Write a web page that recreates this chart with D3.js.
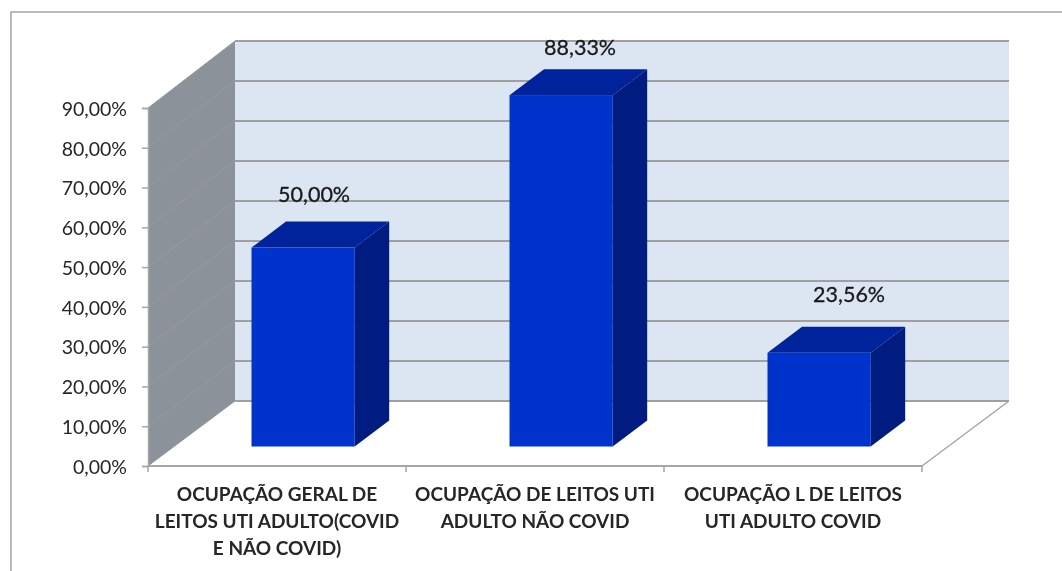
<!DOCTYPE html>
<html>
<head>
<meta charset="utf-8">
<script src="https://cdn.jsdelivr.net/npm/d3@7"></script>
<style>
    html, body { margin: 0; padding: 0; background: #fff; overflow: hidden; }
    svg { display: block; font-family: Lato, sans-serif; }
</style>
</head>
<body>
<script>
// chart data
var categories = [
    ["OCUPAÇÃO GERAL DE", "LEITOS UTI ADULTO(COVID", "E NÃO COVID)"],
    ["OCUPAÇÃO DE LEITOS UTI", "ADULTO NÃO COVID"],
    ["OCUPAÇÃO L DE LEITOS", "UTI ADULTO COVID"]
];
var values = [50.00, 88.33, 23.56];
var valueLabels = ["50,00%", "88,33%", "23,56%"];
var yTicks = [0, 10, 20, 30, 40, 50, 60, 70, 80, 90];
var yTickLabels = ["0,00%", "10,00%", "20,00%", "30,00%", "40,00%", "50,00%", "60,00%", "70,00%", "80,00%", "90,00%"];

let width = 1062;
let height = 571;

// front plane of the 3d box, the back wall is moved by depthX and has its own y scale
let left = 148, right = 922, bottom = 466, top_ = 108;
let depthX = 87, depthY = -65;

var svg = d3.select("body")
    .append("svg")
    .attr("width", width)
    .attr("height", height);

// the picture is a soft upscaled screenshot
var defs = svg.append("defs");
defs.append("filter")
    .attr("id", "soft")
    .append("feGaussianBlur")
    .attr("stdDeviation", 0.55);

var chart = svg.append("g")
    .attr("filter", "url(#soft)");

var yScale = d3.scaleLinear()
    .domain([0, 90])
    .range([bottom, top_]);

var yBack = d3.scaleLinear()
    .domain([0, 90])
    .range([401, 41]);

var xScale = d3.scaleBand()
    .domain(d3.range(categories.length))
    .range([left, right]);

// slide a point into the box, t = 0 is the front plane, t = 1 the back wall
function px(x, t) { return x + depthX * t; }
function py(y, t) { return y + depthY * t; }

function poly(points) {
    return d3.line()(points) + "Z";
}

// outer border of the chart, only top and left are in the picture
chart.append("path")
    .attr("d", "M11,575V12H1070")
    .attr("fill", "none")
    .attr("stroke", "#a3a3a3")
    .attr("stroke-width", 1.5);

// back wall
chart.append("rect")
    .attr("x", px(left, 1))
    .attr("y", yBack(90))
    .attr("width", right - left)
    .attr("height", yBack(0) - yBack(90))
    .attr("fill", "#dce6f2");

// left wall
chart.append("path")
    .attr("d", poly([[left, yScale(0)], [left, yScale(90)], [px(left, 1), yBack(90)], [px(left, 1), yBack(0)]]))
    .attr("fill", "#8b9299");

// gridlines on both walls
chart.selectAll("line.back")
    .data(yTicks)
    .enter()
    .append("line")
    .attr("class", "back")
    .attr("x1", px(left, 1))
    .attr("x2", px(right, 1))
    .attr("y1", function(d) { return yBack(d); })
    .attr("y2", function(d) { return yBack(d); })
    .attr("stroke", "#a0a0a0")
    .attr("stroke-width", 2);

chart.selectAll("line.side")
    .data(yTicks)
    .enter()
    .append("line")
    .attr("class", "side")
    .attr("x1", left)
    .attr("x2", px(left, 1))
    .attr("y1", function(d) { return yScale(d); })
    .attr("y2", function(d) { return yBack(d); })
    .attr("stroke", "#9a9a9a")
    .attr("stroke-width", 1);

// right edge of the floor
chart.append("line")
    .attr("x1", right)
    .attr("y1", bottom)
    .attr("x2", px(right, 1))
    .attr("y2", yBack(0))
    .attr("stroke", "#a6a6a6")
    .attr("stroke-width", 1.5);

// y axis
var yAxis = d3.axisLeft(yScale)
    .tickValues(yTicks)
    .tickSize(6)
    .tickPadding(15)
    .tickFormat(function(d, i) { return yTickLabels[i]; });

var yG = chart.append("g")
    .attr("transform", "translate(" + left + ",1)")
    .call(yAxis);
yG.select(".domain").attr("transform", "translate(0,-1)").attr("stroke", "#a6a6a6").attr("stroke-width", 1.5);
yG.selectAll(".tick line").attr("transform", "translate(0,-1)").attr("stroke", "#a6a6a6").attr("stroke-width", 1.5);
yG.selectAll(".tick text")
    .attr("font-family", "Lato")
    .attr("font-size", 19.5)
    .attr("fill", "#262626");

// x axis, ticks sit between the categories so they are drawn by hand
chart.append("line")
    .attr("x1", left)
    .attr("x2", right)
    .attr("y1", bottom)
    .attr("y2", bottom)
    .attr("stroke", "#a6a6a6")
    .attr("stroke-width", 2);

chart.selectAll("line.xtick")
    .data(d3.range(categories.length + 1))
    .enter()
    .append("line")
    .attr("class", "xtick")
    .attr("x1", function(d) { return left + d * xScale.step(); })
    .attr("x2", function(d) { return left + d * xScale.step(); })
    .attr("y1", bottom)
    .attr("y2", bottom + 6)
    .attr("stroke", "#a6a6a6")
    .attr("stroke-width", 1.5);

var catLabels = chart.selectAll("text.cat")
    .data(categories)
    .enter()
    .append("text")
    .attr("class", "cat")
    .attr("text-anchor", "middle")
    .attr("font-size", 19)
    .attr("font-weight", "bold")
    .attr("fill", "#262626");

catLabels.selectAll("tspan")
    .data(function(d, i) {
        return d.map(function(line) { return { line: line, i: i }; });
    })
    .enter()
    .append("tspan")
    .attr("x", function(d) { return xScale(d.i) + xScale.bandwidth() / 2; })
    .attr("y", function(d, j) { return 500.5 + j * 27.2; })
    .text(function(d) { return d.line; });

// bars stand a bit into the box, 0.4 of the band wide
let barT = 0.3, barDepthX = 34.5, barDepthY = -26, barWidth = xScale.bandwidth() * 0.4;

function barX(i) {
    return px(xScale(i) + (xScale.bandwidth() - barWidth) / 2, barT);
}

var bars = chart.selectAll("g.bar")
    .data(values)
    .enter()
    .append("g")
    .attr("class", "bar");

// front
bars.append("rect")
    .attr("x", function(d, i) { return barX(i); })
    .attr("y", function(d) { return py(yScale(d), barT); })
    .attr("width", barWidth)
    .attr("height", function(d) { return yScale(0) - yScale(d); })
    .attr("fill", "#0033cc");

// top
bars.append("path")
    .attr("d", function(d, i) {
        let x = barX(i), y = py(yScale(d), barT);
        return poly([[x, y], [x + barWidth, y], [x + barWidth + barDepthX, y + barDepthY], [x + barDepthX, y + barDepthY]]);
    })
    .attr("fill", "#00239b");

// side
bars.append("path")
    .attr("d", function(d, i) {
        let x = barX(i) + barWidth, y = py(yScale(d), barT), y0 = py(yScale(0), barT);
        return poly([[x, y], [x + barDepthX, y + barDepthY], [x + barDepthX, y0 + barDepthY], [x, y0]]);
    })
    .attr("fill", "#001f80");

// value labels, moved by hand the same way they are in the picture
var labelDx = [11, 19, 30];
var labelDy = [-25, -20, -30];

chart.selectAll("text.value")
    .data(values)
    .enter()
    .append("text")
    .attr("class", "value")
    .attr("text-anchor", "middle")
    .attr("dominant-baseline", "middle")
    .attr("font-size", 21.5)
    .attr("fill", "#1a1a1a")
    .attr("stroke", "#1a1a1a")
    .attr("stroke-width", 0.3)
    .attr("x", function(d, i) { return barX(i) + barWidth / 2 + labelDx[i]; })
    .attr("y", function(d, i) { return py(yScale(d), barT) + barDepthY + labelDy[i]; })
    .text(function(d, i) { return valueLabels[i]; });
</script>
</body>
</html>
